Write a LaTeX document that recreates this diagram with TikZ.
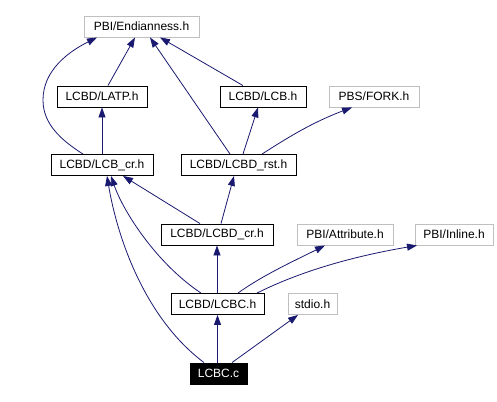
\documentclass[tikz,border=0pt]{standalone}
\usepackage{fontspec}
\setmainfont{Liberation Sans}
\usetikzlibrary{arrows.meta}
\definecolor{edgeblue}{HTML}{191970}
\definecolor{extgrey}{HTML}{BFBFBF}
\tikzset{
  filebox/.style={draw=black, line width=0.9pt, minimum height=21pt, inner xsep=4pt, inner ysep=0pt, font=\fontsize{12}{14}\selectfont, fill=white},
  extbox/.style={filebox, draw=extgrey},
  rootbox/.style={filebox, fill=black, text=white},
  dep/.style={draw=edgeblue, line width=0.8pt, -{Triangle[length=10pt,width=7pt]}},
}
\begin{document}
\begin{tikzpicture}[x=1pt,y=-1pt]
\useasboundingbox (0,0) rectangle (497,401);
\node[extbox, minimum width=115pt] (endian) at (141.5,26.5) {PBI/Endianness.h};
\node[filebox, minimum width=90pt] (latp) at (102,96.5) {LCBD/LATP.h};
\node[filebox, minimum width=86pt] (lcb) at (263,96.5) {LCBD/LCB.h};
\node[extbox, minimum width=90pt] (fork) at (374,96.5) {PBS/FORK.h};
\node[filebox, minimum width=102pt] (lcbcr) at (102,165) {LCBD/LCB\_cr.h};
\node[filebox, minimum width=115pt] (rst) at (238.5,165) {LCBD/LCBD\_rst.h};
\node[filebox, minimum width=112pt] (lcbdcr) at (217,234.5) {LCBD/LCBD\_cr.h};
\node[extbox, minimum width=96pt] (attr) at (345,234.5) {PBI/Attribute.h};
\node[extbox, minimum width=78pt] (inline) at (454,234.5) {PBI/Inline.h};
\node[filebox, minimum width=93pt] (lcbch) at (217.5,304) {LCBD/LCBC.h};
\node[extbox, minimum width=49pt] (stdio) at (312.5,304) {stdio.h};
\node[rootbox, minimum width=57pt] (lcbc) at (218.5,373.5) {LCBC.c};

\draw[dep] ([xshift=6pt]latp.north) -- ([xshift=-6.5pt]endian.south);
\draw[dep] ([xshift=-20pt]lcb.north) -- ([xshift=18.5pt]endian.south);
\draw[dep] ([xshift=-8.5pt]rst.north) -- ([xshift=8.5pt]endian.south);
\draw[dep] ([xshift=-19pt]lcbcr.north) .. controls ++(-22,-14) and ++(0,24) .. (43,100) coordinate (c1)
  .. controls ++(0,-30) and ++(-28,14) .. ([xshift=-44.5pt]endian.south);
\draw[dep] (lcbcr.north) -- (lcbcr.north |- latp.south);
\draw[dep] ([xshift=4.5pt]rst.north) -- ([xshift=-5pt]lcb.south);
\draw[dep] ([xshift=23.5pt]rst.north) .. controls ++(25,-16) and ++(-40,15) .. ([xshift=-22pt]fork.south);
\draw[dep] ([xshift=-17pt]lcbdcr.north) -- ([xshift=21pt]lcbcr.south);
\draw[dep] ([xshift=4pt]lcbdcr.north) -- ([xshift=-4.5pt]rst.south);
\draw[dep] ([xshift=-0.5pt]lcbch.north) -- ([xshift=-0.5pt]lcbch.north |- lcbdcr.south);
\draw[dep] ([xshift=-16.5pt]lcbch.north) .. controls ++(-45,-30) and ++(12,35) .. ([xshift=9pt]lcbcr.south);
\draw[dep] ([xshift=20.5pt]lcbch.north) .. controls ++(25,-18) and ++(-30,15) .. ([xshift=-20pt]attr.south);
\draw[dep] ([xshift=39.5pt]lcbch.north) .. controls ++(40,-20) and ++(-70,12) .. ([xshift=-37pt]inline.south);
\draw[dep] ([xshift=-1pt]lcbc.north) -- ([xshift=-1pt]lcbc.north |- lcbch.south);
\draw[dep] ([xshift=13.5pt]lcbc.north) .. controls ++(25,-18) and ++(-25,18) .. ([xshift=-14.5pt]stdio.south);
\draw[dep] ([xshift=-14.5pt]lcbc.north) .. controls ++(-60,-45) and ++(10,60) .. ([xshift=5pt]lcbcr.south);
\end{tikzpicture}
\end{document}
